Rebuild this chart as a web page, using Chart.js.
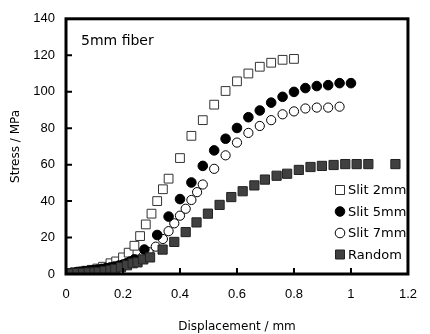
<!DOCTYPE html>
<html>
<head>
<meta charset="utf-8">
<script src="https://cdn.jsdelivr.net/npm/chart.js@4/dist/chart.umd.min.js"></script>
<style>
  html, body { margin: 0; padding: 0; background: #fff; }
  #wrap { width: 430px; height: 334px; }
</style>
</head>
<body>
<div id="wrap"><canvas id="stressChart" width="430" height="334"></canvas></div>
<script>
// Data (displacement in mm, stress in MPa)
const slit2X = [0.01, 0.03, 0.05, 0.07, 0.09, 0.11, 0.13, 0.156, 0.176, 0.2, 0.22, 0.24, 0.26, 0.28, 0.3, 0.32, 0.34, 0.36, 0.4, 0.44, 0.48, 0.52, 0.56, 0.6, 0.64, 0.68, 0.72, 0.76, 0.8];
const slit2Y = [0.5, 0.9, 1.3, 1.8, 2.3, 3.0, 4.0, 5.9, 6.9, 9.1, 11.7, 15.5, 20.8, 27.2, 33.1, 40, 46.5, 52.3, 63.6, 75.8, 84.4, 92.9, 100.4, 105.7, 110, 113.7, 115.9, 117.5, 118];

const slit5X = [0.005, 0.02, 0.035, 0.05, 0.065, 0.08, 0.095, 0.11, 0.125, 0.14, 0.155, 0.17, 0.185, 0.2, 0.213, 0.225, 0.24, 0.275, 0.32, 0.36, 0.4, 0.44, 0.48, 0.52, 0.56, 0.6, 0.64, 0.68, 0.72, 0.76, 0.8, 0.84, 0.88, 0.92, 0.96, 1.0];
const slit5Y = [0.3, 0.6, 0.9, 1.2, 1.5, 1.8, 2.1, 2.4, 2.8, 3.2, 3.6, 4.1, 4.6, 5.2, 5.9, 6.8, 8.0, 13.4, 21.4, 31.5, 41.1, 50.2, 59.3, 67.8, 74.2, 80.1, 86.0, 89.7, 94.0, 97.2, 99.9, 102.0, 103.1, 103.6, 104.7, 104.7];

const slit7X = [0.01, 0.03, 0.05, 0.07, 0.09, 0.11, 0.13, 0.15, 0.17, 0.19, 0.21, 0.23, 0.25, 0.27, 0.29, 0.315, 0.34, 0.36, 0.38, 0.4, 0.42, 0.44, 0.46, 0.48, 0.52, 0.56, 0.6, 0.64, 0.68, 0.72, 0.76, 0.8, 0.84, 0.88, 0.92, 0.96];
const slit7Y = [0.3, 0.6, 1.0, 1.3, 1.7, 2.1, 2.6, 3.1, 3.7, 4.4, 5.3, 6.4, 7.8, 9.6, 12.0, 15.0, 19.2, 23.5, 27.8, 32.0, 35.8, 40.6, 44.9, 49.1, 57.7, 65.1, 72.1, 77.4, 81.2, 84.4, 87.6, 89.2, 90.8, 91.3, 91.3, 91.8];

const randomX = [0.005, 0.02, 0.04, 0.06, 0.08, 0.1, 0.115, 0.136, 0.156, 0.173, 0.193, 0.214, 0.234, 0.251, 0.271, 0.295, 0.339, 0.38, 0.42, 0.458, 0.498, 0.539, 0.58, 0.62, 0.661, 0.698, 0.739, 0.776, 0.817, 0.858, 0.898, 0.939, 0.98, 1.02, 1.061, 1.156];
const randomY = [0.2, 0.3, 0.5, 0.6, 0.8, 0.9, 1.1, 1.6, 2.1, 2.7, 3.7, 4.8, 5.9, 6.4, 8.0, 9.1, 13.4, 17.6, 23.0, 28.3, 33.1, 37.9, 42.2, 45.4, 48.6, 51.8, 53.9, 55.0, 57.1, 58.7, 59.3, 59.8, 60.3, 60.3, 60.3, 60.3];

const seriesNames = ['Slit 2mm', 'Slit 5mm', 'Slit 7mm', 'Random'];
const xTickLabels = ['0', '0.2', '0.4', '0.6', '0.8', '1', '1.2'];
const yTickLabels = ['0', '20', '40', '60', '80', '100', '120', '140'];

function toPoints(xs, ys) {
  return xs.map((x, i) => ({ x: x, y: ys[i] }));
}

// frame, inward tick marks, annotation and legend
const decorPlugin = {
  id: 'decor',
  afterDraw(chart) {
    const ctx = chart.ctx;
    const a = chart.chartArea;
    const xs = chart.scales.x, ys = chart.scales.y;
    ctx.save();
    ctx.strokeStyle = '#000';
    ctx.lineWidth = 3;
    ctx.strokeRect(a.left, a.top, a.right - a.left, a.bottom - a.top);

    ctx.lineWidth = 2;
    ctx.beginPath();
    xs.ticks.forEach(t => {
      const px = xs.getPixelForValue(t.value);
      if (px <= a.left + 2 || px >= a.right - 2) return;
      ctx.moveTo(px, a.bottom);
      ctx.lineTo(px, a.bottom - 6);
    });
    ys.ticks.forEach(t => {
      const py = ys.getPixelForValue(t.value);
      if (py <= a.top + 2 || py >= a.bottom - 2) return;
      ctx.moveTo(a.left, py);
      ctx.lineTo(a.left + 6, py);
    });
    ctx.stroke();

    ctx.fillStyle = '#000';
    ctx.font = '14px "DejaVu Sans"';
    ctx.textBaseline = 'middle';
    ctx.textAlign = 'left';
    ctx.fillText('5mm fiber', 81, 41);

    // legend
    ctx.font = '13px "DejaVu Sans"';
    chart.data.datasets.forEach((ds, i) => {
      const ly = 190 + i * 21.5;
      const lx = 340;
      ctx.lineWidth = 1;
      ctx.fillStyle = ds.pointBackgroundColor;
      ctx.strokeStyle = ds.pointBorderColor;
      ctx.beginPath();
      if (ds.pointStyle === 'rect') {
        ctx.rect(lx - 4.5, ly - 4.5, 9, 9);
      } else {
        ctx.arc(lx, ly, 4.8, 0, Math.PI * 2);
      }
      ctx.fill();
      ctx.stroke();
      ctx.fillStyle = '#000';
      ctx.fillText(ds.label, 348, ly + 1);
    });
    ctx.restore();
  }
};

const ctx = document.getElementById('stressChart').getContext('2d');

const data = {
  datasets: [
    {
      label: seriesNames[0],
      data: toPoints(slit2X, slit2Y),
      pointStyle: 'rect',
      pointRadius: 6.2,
      pointBackgroundColor: '#ffffff',
      pointBorderColor: '#333333',
      pointBorderWidth: 1,
      showLine: false,
      order: 4
    },
    {
      label: seriesNames[1],
      data: toPoints(slit5X, slit5Y),
      pointStyle: 'circle',
      pointRadius: 4.8,
      pointBackgroundColor: '#000000',
      pointBorderColor: '#000000',
      pointBorderWidth: 1,
      showLine: false,
      order: 2
    },
    {
      label: seriesNames[2],
      data: toPoints(slit7X, slit7Y),
      pointStyle: 'circle',
      pointRadius: 4.6,
      pointBackgroundColor: '#ffffff',
      pointBorderColor: '#000000',
      pointBorderWidth: 1,
      showLine: false,
      order: 3
    },
    {
      label: seriesNames[3],
      data: toPoints(randomX, randomY),
      pointStyle: 'rect',
      pointRadius: 6.5,
      pointBackgroundColor: '#404040',
      pointBorderColor: '#222222',
      pointBorderWidth: 1,
      showLine: false,
      order: 1
    }
  ]
};

const config = {
  type: 'scatter',
  data: data,
  options: {
    responsive: false,
    animation: false,
    layout: { padding: { left: 0, top: 12, right: 10, bottom: 0 } },
    plugins: {
      legend: { display: false },
      tooltip: { enabled: false }
    },
    scales: {
      x: {
        type: 'linear',
        min: 0,
        max: 1.2,
        afterFit: s => { s.height = 60; },
        grid: { display: false, drawTicks: false },
        border: { display: false },
        ticks: {
          stepSize: 0.2,
          padding: 13,
          color: '#000',
          font: { family: '"Liberation Sans"', size: 13 },
          maxRotation: 0,
          callback: (v, i) => xTickLabels[i]
        },
        title: {
          display: true,
          text: 'Displacement / mm',
          color: '#000',
          font: { family: '"DejaVu Sans"', size: 12 },
          padding: { top: 6, bottom: 0 }
        }
      },
      y: {
        type: 'linear',
        min: 0,
        max: 140,
        afterFit: s => { s.width = 66; },
        grid: { display: false, drawTicks: false },
        border: { display: false },
        ticks: {
          stepSize: 20,
          padding: 11,
          color: '#000',
          font: { family: '"Liberation Sans"', size: 13 },
          callback: (v, i) => yTickLabels[i]
        },
        title: {
          display: true,
          text: 'Stress / MPa',
          color: '#000',
          font: { family: '"DejaVu Sans"', size: 12 },
          padding: { top: 9, bottom: 4 }
        }
      }
    }
  },
  plugins: [decorPlugin]
};

const stressChart = new Chart(ctx, config);
</script>
</body>
</html>
